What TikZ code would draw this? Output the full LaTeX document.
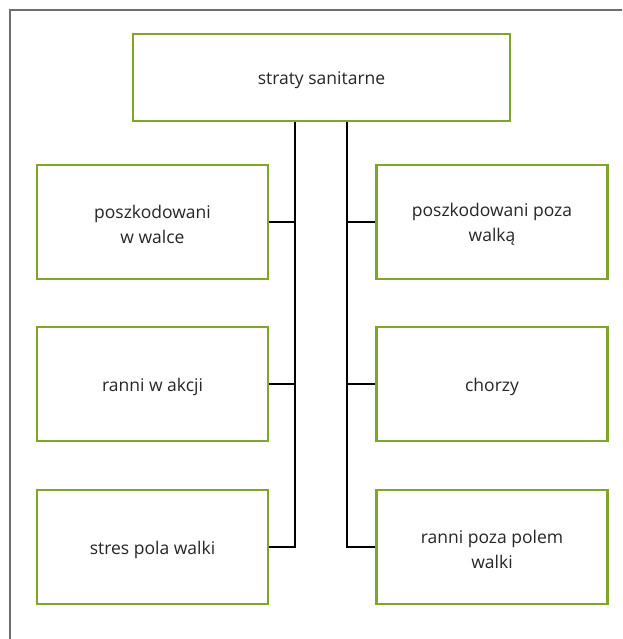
\documentclass[tikz,border=0pt]{standalone}
\usepackage{fontspec}
\setmainfont{Open Sans}
\definecolor{boxgreen}{HTML}{7FA52A}
\definecolor{framegray}{HTML}{6E6E6E}
\begin{document}
\begin{tikzpicture}[x=1pt,y=-1pt,
  catbox/.style={draw=boxgreen,line width=2.8pt,fill=white,minimum width=231pt,minimum height=114pt},
  topbox/.style={catbox,minimum width=377pt,minimum height=87pt},
  caption/.style={align=center,font=\fontsize{17.5}{25}\selectfont,text=black!85,yshift=-2.5pt},
  link/.style={draw=black,line width=1.3pt}]
  \useasboundingbox (0,0) rectangle (622,639);
  % page frame
  \draw[framegray,line width=1.5pt] (10,639) -- (10,10) -- (622,10);
  % boxes
  \node[topbox] (root) at (321.5,77.5) {};
  \node[catbox] (l1) at (152.5,222) {};
  \node[catbox] (l2) at (152.5,384) {};
  \node[catbox] (l3) at (152.5,547) {};
  \node[catbox] (r1) at (492,222) {};
  \node[catbox] (r2) at (492,384) {};
  \node[catbox] (r3) at (492,547) {};
  % captions
  \node[caption] (roott) at (root.center) {straty sanitarne};
  \node[caption] (l1t) at (l1.center) {poszkodowani\\w walce};
  \node[caption] (l2t) at (l2.center) {ranni w akcji};
  \node[caption] (l3t) at (l3.center) {stres pola walki};
  \node[caption] (r1t) at (r1.center) {poszkodowani poza\\walką};
  \node[caption] (r2t) at (r2.center) {chorzy};
  \node[caption] (r3t) at (r3.center) {ranni poza polem\\walki};
  % trunk lines
  \coordinate (lt) at (295,547);
  \coordinate (rt) at (347,547);
  \draw[link] (root.south -| lt) -- (lt) -- (l3.east);
  \draw[link] (root.south -| rt) -- (rt) -- (r3.west);
  \draw[link] (l1.east) -- (l1.east -| lt);
  \draw[link] (l2.east) -- (l2.east -| lt);
  \draw[link] (r1.west) -- (r1.west -| rt);
  \draw[link] (r2.west) -- (r2.west -| rt);
\end{tikzpicture}
\end{document}
